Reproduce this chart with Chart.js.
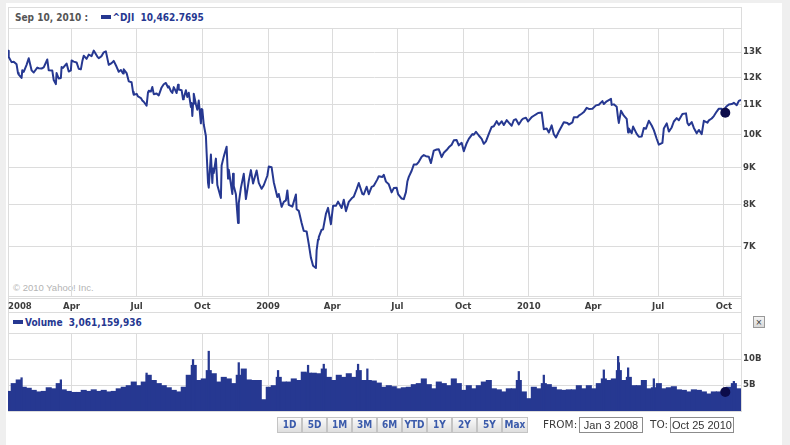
<!DOCTYPE html>
<html><head><meta charset="utf-8">
<script src="https://cdn.jsdelivr.net/npm/chart.js@4.4.0/dist/chart.umd.min.js"></script>
<style>
html,body{margin:0;padding:0;}
body{width:790px;height:445px;background:#efefef;position:relative;overflow:hidden;font-family:"DejaVu Sans Condensed","DejaVu Sans",sans-serif;}
#panel{position:absolute;left:6px;top:3px;width:776px;height:442px;background:#fff;}
.ln{position:absolute;background:#dcdcdc;}
canvas{position:absolute;left:0;}
.lg{position:absolute;font-weight:bold;font-size:10px;white-space:pre;line-height:12px;}
.sw{display:inline-block;width:10px;height:4px;background:#263891;vertical-align:middle;margin-right:2px;position:relative;top:-1px;}
.btns{position:absolute;left:277px;top:417px;display:flex;}
.btn{width:23px;height:14px;border:1px solid #c4c4c4;background:linear-gradient(#fafafa,#dedede);color:#3b5bab;font-weight:bold;font-size:10px;line-height:14px;text-align:center;box-sizing:content-box;}
.lab{position:absolute;font-family:"DejaVu Sans",sans-serif;font-size:10.5px;color:#3a3a3a;}
.box{position:absolute;height:14px;width:62px;border:1px solid #8c8c8c;background:#fff;font-family:"Liberation Sans",Arial,sans-serif;font-size:11px;line-height:14px;color:#333;text-align:center;}
</style></head>
<body>
<div id="panel"></div>
<div class="ln" style="left:8px;top:7px;width:734px;height:1px"></div>
<div class="ln" style="left:8px;top:7px;width:1px;height:22px"></div>
<div class="ln" style="left:741px;top:7px;width:1px;height:22px"></div>
<div class="ln" style="left:8px;top:298px;width:734px;height:1px"></div>
<div class="ln" style="left:8px;top:312px;width:734px;height:1px"></div>
<div class="ln" style="left:8px;top:296px;width:1px;height:40px"></div>
<div class="ln" style="left:741px;top:296px;width:1px;height:40px"></div>
<div class="lg" style="left:15px;top:12px;color:#555"><span>Sep 10, 2010 :</span>    <span style="color:#263891"><span class="sw"></span>^DJI  10,462.7695</span></div>
<div class="lg" style="left:13px;top:317px;color:#263891"><span class="sw"></span>Volume  3,061,159,936</div>
<div style="position:absolute;left:13px;top:282px;font-family:'Liberation Sans',Arial,sans-serif;font-size:9.5px;color:#b4b4b4">© 2010 Yahoo! Inc.</div>
<div style="position:absolute;left:753px;top:316px;width:10px;height:10px;border:1px solid #999;background:linear-gradient(#f4f4f4,#d8d8d8);font-size:9px;line-height:10px;text-align:center;color:#333">×</div>
<canvas id="c1" width="790" height="315" style="top:0"></canvas>
<canvas id="c2" width="790" height="100" style="top:325px"></canvas>
<div class="btns">
<div class="btn">1D</div><div class="btn">5D</div><div class="btn">1M</div><div class="btn">3M</div><div class="btn">6M</div><div class="btn">YTD</div><div class="btn">1Y</div><div class="btn">2Y</div><div class="btn">5Y</div><div class="btn" style="width:24px">Max</div>
</div>
<div class="lab" style="left:543px;top:418px">FROM:</div>
<div class="box" style="left:579px;top:417px">Jan 3 2008</div>
<div class="lab" style="left:650px;top:418px">TO:</div>
<div class="box" style="left:670px;top:417px">Oct 25 2010</div>
<script>
// ---------- data ----------
const startDate = '2008-01-03';
const endDate = '2010-10-25';

const dates = [
'2008-01-03','2008-01-04','2008-01-08','2008-01-11','2008-01-15','2008-01-17','2008-01-18','2008-01-22','2008-01-23','2008-01-25','2008-01-29',
'2008-02-01','2008-02-05','2008-02-08','2008-02-13','2008-02-15','2008-02-19','2008-02-22','2008-02-27','2008-02-29',
'2008-03-05','2008-03-07','2008-03-10','2008-03-11','2008-03-14','2008-03-17','2008-03-18','2008-03-20','2008-03-25','2008-03-28','2008-03-31',
'2008-04-01','2008-04-04','2008-04-08','2008-04-11','2008-04-14','2008-04-16','2008-04-18','2008-04-22','2008-04-25','2008-04-29',
'2008-05-02','2008-05-07','2008-05-09','2008-05-13','2008-05-16','2008-05-19','2008-05-23','2008-05-27','2008-05-30',
'2008-06-03','2008-06-06','2008-06-09','2008-06-12','2008-06-13','2008-06-17','2008-06-20','2008-06-24','2008-06-26','2008-06-27',
'2008-07-01','2008-07-03','2008-07-07','2008-07-09','2008-07-11','2008-07-15','2008-07-17','2008-07-18','2008-07-21','2008-07-23','2008-07-25','2008-07-29',
'2008-08-01','2008-08-05','2008-08-08','2008-08-11','2008-08-14','2008-08-15','2008-08-18','2008-08-20','2008-08-22','2008-08-26','2008-08-28','2008-08-29',
'2008-09-02','2008-09-04','2008-09-05','2008-09-08','2008-09-10','2008-09-12','2008-09-15','2008-09-16','2008-09-17','2008-09-18','2008-09-19','2008-09-22','2008-09-24','2008-09-26','2008-09-29','2008-09-30',
'2008-10-01','2008-10-03','2008-10-06','2008-10-07','2008-10-09','2008-10-10','2008-10-13','2008-10-15','2008-10-16','2008-10-17','2008-10-20','2008-10-22','2008-10-24','2008-10-27','2008-10-28','2008-10-31',
'2008-11-04','2008-11-06','2008-11-07','2008-11-12','2008-11-13','2008-11-14','2008-11-17','2008-11-20','2008-11-21','2008-11-24','2008-11-28',
'2008-12-01','2008-12-05','2008-12-08','2008-12-11','2008-12-16','2008-12-19','2008-12-23','2008-12-26','2008-12-31',
'2009-01-02','2009-01-06','2009-01-09','2009-01-14','2009-01-16','2009-01-20','2009-01-23','2009-01-26','2009-01-28','2009-01-30',
'2009-02-04','2009-02-09','2009-02-10','2009-02-13','2009-02-17','2009-02-20','2009-02-24','2009-02-27',
'2009-03-02','2009-03-05','2009-03-09','2009-03-10','2009-03-12','2009-03-13','2009-03-17','2009-03-19','2009-03-23','2009-03-26','2009-03-30',
'2009-04-02','2009-04-06','2009-04-09','2009-04-14','2009-04-17','2009-04-20','2009-04-24','2009-04-29',
'2009-05-01','2009-05-05','2009-05-08','2009-05-13','2009-05-15','2009-05-19','2009-05-22','2009-05-26','2009-05-29',
'2009-06-03','2009-06-05','2009-06-10','2009-06-12','2009-06-15','2009-06-19','2009-06-23','2009-06-26','2009-06-30',
'2009-07-02','2009-07-07','2009-07-10','2009-07-13','2009-07-15','2009-07-17','2009-07-21','2009-07-24','2009-07-28','2009-07-31',
'2009-08-04','2009-08-07','2009-08-10','2009-08-14','2009-08-17','2009-08-21','2009-08-25','2009-08-28',
'2009-09-01','2009-09-04','2009-09-09','2009-09-11','2009-09-15','2009-09-18','2009-09-22','2009-09-25','2009-09-29',
'2009-10-02','2009-10-06','2009-10-09','2009-10-14','2009-10-16','2009-10-19','2009-10-23','2009-10-27','2009-10-30',
'2009-11-02','2009-11-06','2009-11-10','2009-11-13','2009-11-17','2009-11-20','2009-11-24','2009-11-27',
'2009-12-01','2009-12-04','2009-12-08','2009-12-11','2009-12-14','2009-12-18','2009-12-22','2009-12-24','2009-12-28','2009-12-31',
'2010-01-05','2010-01-08','2010-01-11','2010-01-14','2010-01-19','2010-01-22','2010-01-26','2010-01-29',
'2010-02-02','2010-02-05','2010-02-08','2010-02-12','2010-02-16','2010-02-19','2010-02-24','2010-02-26',
'2010-03-03','2010-03-05','2010-03-10','2010-03-12','2010-03-16','2010-03-19','2010-03-23','2010-03-26','2010-03-31',
'2010-04-05','2010-04-09','2010-04-14','2010-04-16','2010-04-20','2010-04-26','2010-04-27','2010-04-30',
'2010-05-04','2010-05-06','2010-05-07','2010-05-10','2010-05-14','2010-05-18','2010-05-20','2010-05-21','2010-05-25','2010-05-27',
'2010-06-01','2010-06-04','2010-06-08','2010-06-11','2010-06-14','2010-06-18','2010-06-22','2010-06-25','2010-06-29',
'2010-07-02','2010-07-07','2010-07-09','2010-07-13','2010-07-16','2010-07-20','2010-07-23','2010-07-27','2010-07-30',
'2010-08-04','2010-08-09','2010-08-11','2010-08-13','2010-08-17','2010-08-20','2010-08-24','2010-08-27','2010-08-31',
'2010-09-03','2010-09-08','2010-09-10','2010-09-14','2010-09-17','2010-09-21','2010-09-24','2010-09-28','2010-09-30',
'2010-10-05','2010-10-08','2010-10-12','2010-10-15','2010-10-19','2010-10-22','2010-10-25'
];
const closes = [
13057,12800,12589,12606,12501,12159,12099,11971,12270,12207,12480,
12743,12265,12182,12373,12348,12337,12381,12694,12266,
12254,11894,11741,12157,11951,11972,12392,12361,12533,12216,12263,
12654,12609,12577,12325,12303,12620,12849,12720,12892,12832,
13058,12815,12746,12833,12987,13028,12480,12549,12638,
12404,12210,12280,12141,12307,12160,11843,11808,11453,11347,
11383,11288,11231,11148,11100,10963,11446,11497,11467,11632,11371,11397,
11326,11616,11734,11783,11616,11660,11479,11417,11628,11413,11715,11544,
11516,11188,11221,11511,11268,11422,10918,11060,10610,11020,11388,11016,10825,11143,10365,10851,
10831,10325,9955,9447,8579,8451,9387,8578,8979,8852,9266,8519,8379,8176,9065,9325,
9625,8696,8944,8283,8835,8497,8273,7552,8046,8443,8829,
8149,8635,8934,8565,8924,8579,8419,8515,8776,
9035,9015,8599,8201,8281,7950,8078,8117,8375,8001,
7956,8270,7889,7850,7553,7366,7351,7063,
6763,6595,6547,6926,7170,7224,7395,7400,7776,7925,7523,
7978,7975,8083,7920,8131,7842,8076,8185,
8212,8410,8575,8284,8269,8475,8277,8473,8500,
8675,8763,8740,8799,8613,8540,8323,8438,8447,
8281,8163,8147,8331,8616,8744,8916,9093,9096,9172,
9320,9370,9338,9321,9136,9506,9540,9544,
9311,9441,9547,9605,9683,9820,9829,9665,9742,
9488,9731,9865,10016,9996,10092,9972,9868,9713,
9789,10023,10247,10270,10437,10318,10433,10310,
10471,10389,10286,10472,10502,10329,10473,10520,10548,10428,
10573,10618,10663,10711,10725,10173,10194,10067,
10297,10012,9908,10099,10268,10402,10375,10325,
10396,10566,10567,10625,10685,10742,10888,10850,10857,
10974,10997,11124,11019,11117,11205,10991,11009,
10926,10520,10380,10785,10620,10510,10068,10193,10044,10259,
10025,9932,9940,10211,10191,10451,10294,10144,9870,
9686,9744,10198,10364,10098,10230,10425,10537,10466,
10680,10698,10379,10303,10406,10214,10041,10150,10015,
10448,10388,10463,10526,10608,10761,10860,10858,10788,
10944,11006,11021,11063,10979,11133,11164
];

// weekly volume (billions of shares), week ending Friday
const volWeeks = [
'2008-01-04','2008-01-11','2008-01-18','2008-01-25','2008-02-01','2008-02-08','2008-02-15','2008-02-22','2008-02-29','2008-03-07','2008-03-14','2008-03-21','2008-03-28',
'2008-04-04','2008-04-11','2008-04-18','2008-04-25','2008-05-02','2008-05-09','2008-05-16','2008-05-23','2008-05-30','2008-06-06','2008-06-13','2008-06-20','2008-06-27',
'2008-07-04','2008-07-11','2008-07-18','2008-07-25','2008-08-01','2008-08-08','2008-08-15','2008-08-22','2008-08-29','2008-09-05','2008-09-12','2008-09-19','2008-09-26',
'2008-10-03','2008-10-10','2008-10-17','2008-10-24','2008-10-31','2008-11-07','2008-11-14','2008-11-21','2008-11-28','2008-12-05','2008-12-12','2008-12-19','2008-12-26',
'2009-01-02','2009-01-09','2009-01-16','2009-01-23','2009-01-30','2009-02-06','2009-02-13','2009-02-20','2009-02-27','2009-03-06','2009-03-13','2009-03-20','2009-03-27',
'2009-04-03','2009-04-10','2009-04-17','2009-04-24','2009-05-01','2009-05-08','2009-05-15','2009-05-22','2009-05-29','2009-06-05','2009-06-12','2009-06-19','2009-06-26',
'2009-07-03','2009-07-10','2009-07-17','2009-07-24','2009-07-31','2009-08-07','2009-08-14','2009-08-21','2009-08-28','2009-09-04','2009-09-11','2009-09-18','2009-09-25',
'2009-10-02','2009-10-09','2009-10-16','2009-10-23','2009-10-30','2009-11-06','2009-11-13','2009-11-20','2009-11-27','2009-12-04','2009-12-11','2009-12-18','2009-12-25',
'2010-01-01','2010-01-08','2010-01-15','2010-01-22','2010-01-29','2010-02-05','2010-02-12','2010-02-19','2010-02-26','2010-03-05','2010-03-12','2010-03-19','2010-03-26',
'2010-04-02','2010-04-09','2010-04-16','2010-04-23','2010-04-30','2010-05-07','2010-05-14','2010-05-21','2010-05-28','2010-06-04','2010-06-11','2010-06-18','2010-06-25',
'2010-07-02','2010-07-09','2010-07-16','2010-07-23','2010-07-30','2010-08-06','2010-08-13','2010-08-20','2010-08-27','2010-09-03','2010-09-10','2010-09-17','2010-09-24',
'2010-10-01','2010-10-08','2010-10-15','2010-10-22'
];
const volumes = [
3.8,5.3,6.0,4.6,4.4,4.0,3.7,3.8,4.5,4.3,5.3,4.1,3.8,
3.6,3.6,4.0,3.8,4.1,3.8,4.0,3.7,3.8,4.3,4.6,4.9,5.6,
4.9,5.6,6.9,5.9,5.3,4.9,4.5,4.0,3.7,4.6,6.9,8.8,5.9,
6.2,7.8,7.2,5.6,6.5,6.2,5.3,6.9,8.1,6.0,5.9,5.9,2.2,
4.6,4.9,6.5,5.6,5.6,6.2,5.9,7.5,7.3,7.3,7.2,8.1,6.5,
5.9,6.9,6.5,7.2,6.5,7.8,5.9,5.9,5.8,5.4,4.6,4.9,4.7,
4.3,4.5,4.6,5.1,5.3,6.2,5.1,4.3,5.6,5.3,4.9,6.2,5.3,
4.0,4.9,4.3,4.9,5.6,5.9,4.3,4.1,3.7,4.3,4.3,5.9,3.7,
2.4,4.6,4.3,5.3,5.1,4.6,4.1,4.0,4.1,4.1,4.9,4.3,4.9,
4.3,5.3,6.2,5.9,6.2,7.8,5.9,6.5,4.9,4.9,5.9,4.3,4.5,
5.3,4.3,4.5,4.7,4.1,4.0,3.7,4.1,4.0,3.7,3.3,3.7,3.7,
3.7,4.6,5.3,4.3
];
// single heavy-volume sessions (billions)
const peakDates = ['2008-01-22','2008-03-17','2008-07-15','2008-09-18','2008-10-10','2008-11-21','2009-01-15','2009-02-26','2009-03-20','2009-05-07','2009-05-20','2009-12-18','2010-01-22','2010-04-16','2010-05-06','2010-05-07','2010-05-20','2010-06-25','2010-10-15'];
const peakVolumes = [6.4,6.0,7.3,9.9,11.5,9.3,7.8,8.8,9.0,9.0,8.1,7.6,6.9,7.9,10.5,9.3,8.3,6.2,5.7];

const xTickDates  = ['2008-01-03','2008-04-01','2008-07-01','2008-10-01','2009-01-01','2009-04-01','2009-07-01','2009-10-01','2010-01-01','2010-04-01','2010-07-01','2010-10-01','2010-10-25'];
const xTickLabels = ['2008','Apr','Jul','Oct','2009','Apr','Jul','Oct','2010','Apr','Jul','Oct',''];
const priceTicks = [7000,8000,9000,10000,11000,12000,13000];
const priceTickLabels = ['7K','8K','9K','10K','11K','12K','13K'];
const priceRange = [5990, 14030];
const volTicks = [5, 10];
const volTickLabels = ['5B','10B'];
const volRange = [0, 15];
const markerDate = '2010-10-03';
const markerClose = 10720;
const markerVolume = 3.65;

// ---------- helpers ----------
const BASE = Date.UTC(2008,0,1);
function day(s){const p=s.split('-').map(Number);return (Date.UTC(p[0],p[1]-1,p[2])-BASE)/86400000;}
const xMin = day(startDate), xMax = day(endDate);
const NAVY = '#263891', GRID = '#dcdcdc', LABEL = '#3d3d3d';
const tickFont = {family:'DejaVu Sans Condensed', size:9.5, weight:'bold'};
Chart.defaults.font.family = 'DejaVu Sans Condensed';

const frame = {
  id:'frame',
  beforeDatasetsDraw(chart){
    const a = chart.chartArea, c = chart.ctx;
    c.save(); c.strokeStyle = GRID; c.lineWidth = 1;
    c.strokeRect(Math.round(a.left)+0.5, Math.round(a.top)+0.5, Math.round(a.right-a.left), Math.round(a.bottom-a.top));
    c.restore();
  }
};

function xScale(showLabels, h){
  return {
    type:'linear', min:xMin, max:xMax, bounds:'data', offset:false,
    grid:{color:GRID, lineWidth:1, drawTicks:false, offset:false},
    border:{display:true, color:GRID},
    afterBuildTicks(s){ s.ticks = xTickDates.map(d=>({value:day(d)})); },
    afterFit(s){ s.height = h; },
    ticks:{display:showLabels, autoSkip:false, maxRotation:0, minRotation:0, padding:5, align:'inner',
      color:LABEL, font:tickFont, callback:(v,i)=>xTickLabels[i]}
  };
}

new Chart(document.getElementById('c1'), {
  type:'line',
  data:{datasets:[
    {data:[{x:day(markerDate), y:markerClose}], showLine:false, pointRadius:5, pointBackgroundColor:'#0c0c4a', pointBorderWidth:0, order:0},
    {data:dates.map((d,i)=>({x:day(d), y:closes[i]})), borderColor:NAVY, borderWidth:2, pointRadius:0, tension:0, borderJoinStyle:'round', fill:false, order:1}
  ]},
  options:{
    responsive:false, animation:false, devicePixelRatio:1,
    layout:{padding:{left:8, top:28, right:0, bottom:0}},
    plugins:{legend:{display:false}, tooltip:{enabled:false}},
    scales:{
      x:xScale(true, 19),
      y:{type:'logarithmic', position:'right', min:priceRange[0], max:priceRange[1], bounds:'data',
        grid:{color:GRID, lineWidth:1, drawTicks:false},
        border:{display:true, color:GRID},
        afterBuildTicks(s){ s.ticks = priceTicks.map(v=>({value:v})); },
        afterFit(s){ s.width = 49; },
        ticks:{padding:2, color:LABEL, font:tickFont, callback:(v,i)=>priceTickLabels[i]}
      }
    }
  },
  plugins:[frame]
});

new Chart(document.getElementById('c2'), {
  type:'bar',
  data:{datasets:[
    {type:'line', data:[{x:day(markerDate), y:markerVolume}], showLine:false, pointRadius:5, pointBackgroundColor:'#0c0c4a', pointBorderWidth:0, order:0},
    {type:'bar', data:peakDates.map((d,i)=>({x:day(d), y:peakVolumes[i]})), backgroundColor:NAVY, borderWidth:0, barThickness:1.6, grouped:false, order:1},
    {type:'bar', data:volWeeks.map((d,i)=>({x:day(d), y:volumes[i]})), backgroundColor:NAVY, borderWidth:0, barThickness:5.4, grouped:false, order:2}
  ]},
  options:{
    responsive:false, animation:false, devicePixelRatio:1,
    layout:{padding:{left:8, top:8, right:0, bottom:14}},
    plugins:{legend:{display:false}, tooltip:{enabled:false}},
    scales:{
      x:xScale(false, 0),
      y:{type:'linear', position:'right', min:volRange[0], max:volRange[1], bounds:'data',
        grid:{color:GRID, lineWidth:1, drawTicks:false},
        border:{display:true, color:GRID},
        afterBuildTicks(s){ s.ticks = volTicks.map(v=>({value:v})); },
        afterFit(s){ s.width = 49; },
        ticks:{padding:2, color:LABEL, font:tickFont, callback:(v,i)=>volTickLabels[i]}
      }
    }
  },
  plugins:[frame]
});
</script>
</body></html>
